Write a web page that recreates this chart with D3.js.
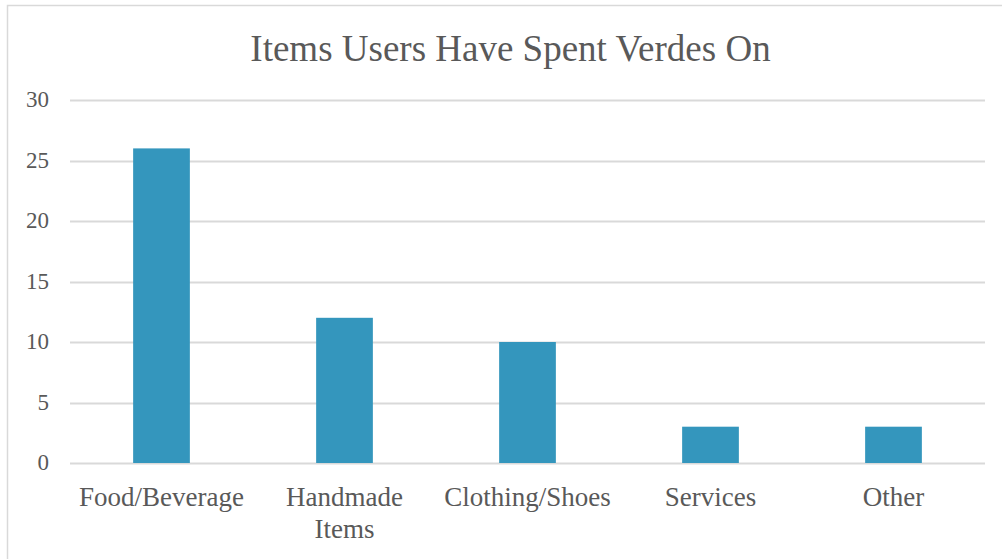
<!DOCTYPE html>
<html>
<head>
<meta charset="utf-8">
<script src="https://cdn.jsdelivr.net/npm/d3@7"></script>
</head>
<body style="margin:0;background:#fff">
<svg id="chart" width="1002" height="559" style="display:block"></svg>
<script>
// Chart data
const title = "Items Users Have Spent Verdes On";
const categories = ["Food/Beverage", "Handmade Items", "Clothing/Shoes", "Services", "Other"];
const labelLines = [["Food/Beverage"], ["Handmade", "Items"], ["Clothing/Shoes"], ["Services"], ["Other"]];
const values = [26, 12, 10, 3, 3];
const yTicks = [0, 5, 10, 15, 20, 25, 30];

const W = 1002, H = 559;
const margin = { left: 70, right: 17, top: 100, bottom: 96 };
const FONT = '"Times New Roman"';
const TEXT_COLOR = "#595959";
const svg = d3.select("#chart");

// Outer chart frame
svg.append("rect")
  .attr("x", 7.5).attr("y", 5.5)
  .attr("width", W).attr("height", H)
  .attr("fill", "none").attr("stroke", "#d9d9d9").attr("stroke-width", 1.5);

const x = d3.scaleBand()
  .domain(categories)
  .range([margin.left, W - margin.right])
  .paddingInner(0.69).paddingOuter(0.345);

const y = d3.scaleLinear()
  .domain([0, 30])
  .range([H - margin.bottom, margin.top]);

// Horizontal gridlines
svg.append("g")
  .selectAll("line")
  .data(yTicks)
  .join("line")
  .attr("x1", margin.left).attr("x2", W - margin.right)
  .attr("y1", d => Math.round(y(d)) + 0.5).attr("y2", d => Math.round(y(d)) + 0.5)
  .attr("stroke", "#d9d9d9").attr("stroke-width", 2);

// Y axis labels
svg.append("g")
  .selectAll("text")
  .data(yTicks)
  .join("text")
  .attr("x", margin.left - 21)
  .attr("y", d => y(d))
  .attr("dy", "0.32em")
  .attr("text-anchor", "end")
  .attr("font-size", 23)
  .attr("fill", TEXT_COLOR)
  .style("font-family", FONT)
  .text(d => d);

// Bars
svg.append("g")
  .selectAll("rect")
  .data(values)
  .join("rect")
  .attr("x", (d, i) => x(categories[i]))
  .attr("width", x.bandwidth())
  .attr("y", d => y(d))
  .attr("height", d => y(0) - y(d))
  .attr("fill", "#3496bd");

// Category labels, one text per line
categories.forEach((c, i) => {
  labelLines[i].forEach((line, j) => {
    svg.append("text")
      .attr("x", x(c) + x.bandwidth() / 2)
      .attr("y", 506 + j * 32)
      .attr("text-anchor", "middle")
      .attr("font-size", 27)
      .attr("fill", TEXT_COLOR)
      .style("font-family", FONT)
      .text(line);
  });
});

// Title
svg.append("text")
  .attr("x", 510.5).attr("y", 61)
  .attr("text-anchor", "middle")
  .attr("font-size", 37)
  .attr("fill", TEXT_COLOR)
  .style("font-family", FONT)
  .text(title);
</script>
</body>
</html>
